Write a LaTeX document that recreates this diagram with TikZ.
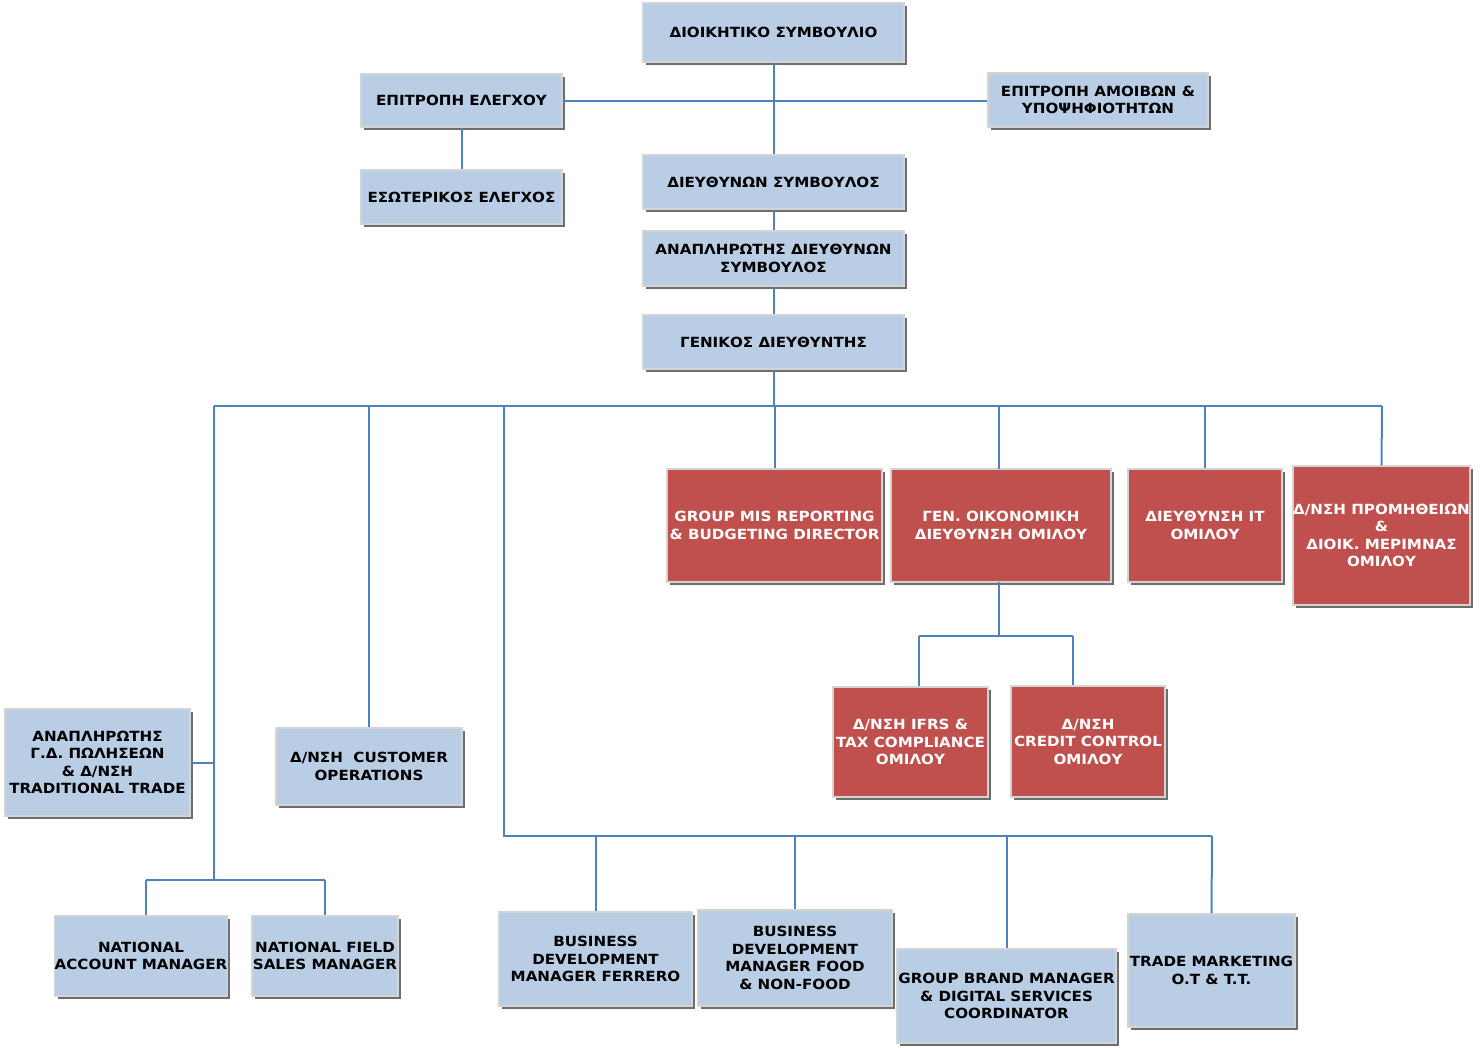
\documentclass[tikz,border=0pt]{standalone}
\usepackage{fontspec}
\setmainfont{DejaVu Sans}[FakeStretch=1.08]
\usetikzlibrary{shadows}
\definecolor{boxblue}{HTML}{B9CDE5}
\definecolor{boxred}{HTML}{C0504D}
\definecolor{linkblue}{HTML}{4F81BD}
\definecolor{edgegray}{HTML}{D4D4D4}
\definecolor{shadowgray}{HTML}{6E6E6E}
\tikzset{
  box/.style={rectangle, draw=edgegray, line width=1.5pt, align=center,
    font=\fontsize{14}{17.5}\selectfont\bfseries, inner sep=0pt,
    general shadow={fill=shadowgray, shadow xshift=3pt, shadow yshift=-3pt}},
  bluebox/.style={box, fill=boxblue, text=black},
  redbox/.style={box, fill=boxred, text=white},
  link/.style={draw=linkblue, line width=2pt},
}
\newcommand{\bx}[7]{% style, name, x1, y1, x2, y2, text
  \node[#1, minimum width={#5-#3}, minimum height={#6-#4}] (#2) at ({(#3+#5)/2},{(#4+#6)/2}) {#7};}
\begin{document}
\begin{tikzpicture}[x=1pt,y=-1pt]
\useasboundingbox (0,0) rectangle (1482,1047);
% boxes
\bx{bluebox}{dioik}{643}{3}{904}{62}{ΔΙΟΙΚΗΤΙΚΟ ΣΥΜΒΟΥΛΙΟ}
\bx{bluebox}{epel}{361}{74}{562}{127}{ΕΠΙΤΡΟΠΗ ΕΛΕΓΧΟΥ}
\bx{bluebox}{epam}{988}{73}{1208}{127}{ΕΠΙΤΡΟΠΗ ΑΜΟΙΒΩΝ \&\\ΥΠΟΨΗΦΙΟΤΗΤΩΝ}
\bx{bluebox}{eso}{361}{170}{562}{224}{ΕΣΩΤΕΡΙΚΟΣ ΕΛΕΓΧΟΣ}
\bx{bluebox}{ceo}{643}{155}{904}{209}{ΔΙΕΥΘΥΝΩΝ ΣΥΜΒΟΥΛΟΣ}
\bx{bluebox}{dceo}{643}{231}{904}{286}{ΑΝΑΠΛΗΡΩΤΗΣ ΔΙΕΥΘΥΝΩΝ\\ΣΥΜΒΟΥΛΟΣ}
\bx{bluebox}{gm}{643}{315}{904}{369}{ΓΕΝΙΚΟΣ ΔΙΕΥΘΥΝΤΗΣ}
\bx{redbox}{mis}{667}{469}{882}{582}{GROUP MIS REPORTING\\\& BUDGETING DIRECTOR}
\bx{redbox}{fin}{891}{469}{1111}{582}{ΓΕΝ. ΟΙΚΟΝΟΜΙΚΗ\\ΔΙΕΥΘΥΝΣΗ ΟΜΙΛΟΥ}
\bx{redbox}{it}{1128}{469}{1282}{582}{ΔΙΕΥΘΥΝΣΗ IT\\ΟΜΙΛΟΥ}
\bx{redbox}{prom}{1293}{466}{1470}{605}{Δ/ΝΣΗ ΠΡΟΜΗΘΕΙΩΝ\\\&\\ΔΙΟΙΚ. ΜΕΡΙΜΝΑΣ\\ΟΜΙΛΟΥ}
\bx{redbox}{ifrs}{833}{687}{988}{797}{Δ/ΝΣΗ IFRS \&\\TAX COMPLIANCE\\ΟΜΙΛΟΥ}
\bx{redbox}{cred}{1011}{686}{1165}{797}{Δ/ΝΣΗ\\CREDIT CONTROL\\ΟΜΙΛΟΥ}
\bx{bluebox}{trad}{5}{709}{190}{816}{ΑΝΑΠΛΗΡΩΤΗΣ\\Γ.Δ. ΠΩΛΗΣΕΩΝ\\\& Δ/ΝΣΗ\\TRADITIONAL TRADE}
\bx{bluebox}{cust}{276}{728}{462}{805}{Δ/ΝΣΗ\ \ CUSTOMER\\OPERATIONS}
\bx{bluebox}{nam}{56}{916}{226}{996}{NATIONAL\\ACCOUNT MANAGER}
\bx{bluebox}{nfs}{252}{916}{398}{996}{NATIONAL FIELD\\SALES MANAGER}
\bx{bluebox}{bdf}{499}{912}{692}{1006}{BUSINESS\\DEVELOPMENT\\MANAGER FERRERO}
\bx{bluebox}{bdfood}{698}{910}{892}{1006}{BUSINESS\\DEVELOPMENT\\MANAGER FOOD\\\& NON-FOOD}
\bx{bluebox}{gbm}{897}{949}{1116}{1043}{GROUP BRAND MANAGER\\\& DIGITAL SERVICES\\COORDINATOR}
\bx{bluebox}{tm}{1128}{914}{1295}{1027}{TRADE MARKETING\\O.T \& T.T.}
% junction coordinates
\coordinate (busL) at (214,406);
\coordinate (busR) at (1382,406);
\coordinate (bus2L) at (504,836);
\coordinate (bus2R) at (1212,836);
\coordinate (bus3L) at (146,880);
\coordinate (bus3R) at (325,880);
\coordinate (finJ) at (999,636);
\coordinate (finL) at (919,636);
\coordinate (finR) at (1073,636);
% connectors
\draw[link] (dioik.south) -- (ceo.north);
\draw[link] (epel.east) -- (epel.east -| epam.west);
\draw[link] (epel.south) -- (eso.north);
\draw[link] (ceo.south) -- (dceo.north);
\draw[link] (dceo.south) -- (gm.north);
\draw[link] (gm.south) -- (gm.south |- busL);
\draw[link] (busL) -- (busR);
\draw[link] (busR) -- (prom.north);
\draw[link] (mis.north |- busL) -- (mis.north);
\draw[link] (999,406) -- (999,469);
\draw[link] (it.north |- busL) -- (it.north);
\draw[link] (cust.north |- busL) -- (cust.north);
\draw[link] (504,406) -- (bus2L) -- (bus2R);
\draw[link] (bdf.north |- bus2L) -- (bdf.north);
\draw[link] (bdfood.north |- bus2L) -- (bdfood.north);
\draw[link] (gbm.north |- bus2L) -- (gbm.north);
\draw[link] (bus2R) -- (tm.north);
\draw[link] (busL) -- (214,880);
\draw[link] (trad.east) -- (trad.east -| busL);
\draw[link] (bus3L) -- (bus3R);
\draw[link] (bus3L) -- (bus3L |- nam.north);
\draw[link] (bus3R) -- (nfs.north);
\draw[link] (999,582) -- (finJ);
\draw[link] (finL) -- (finR);
\draw[link] (finL) -- (finL |- ifrs.north);
\draw[link] (finR) -- (finR |- cred.north);
\end{tikzpicture}
\end{document}
